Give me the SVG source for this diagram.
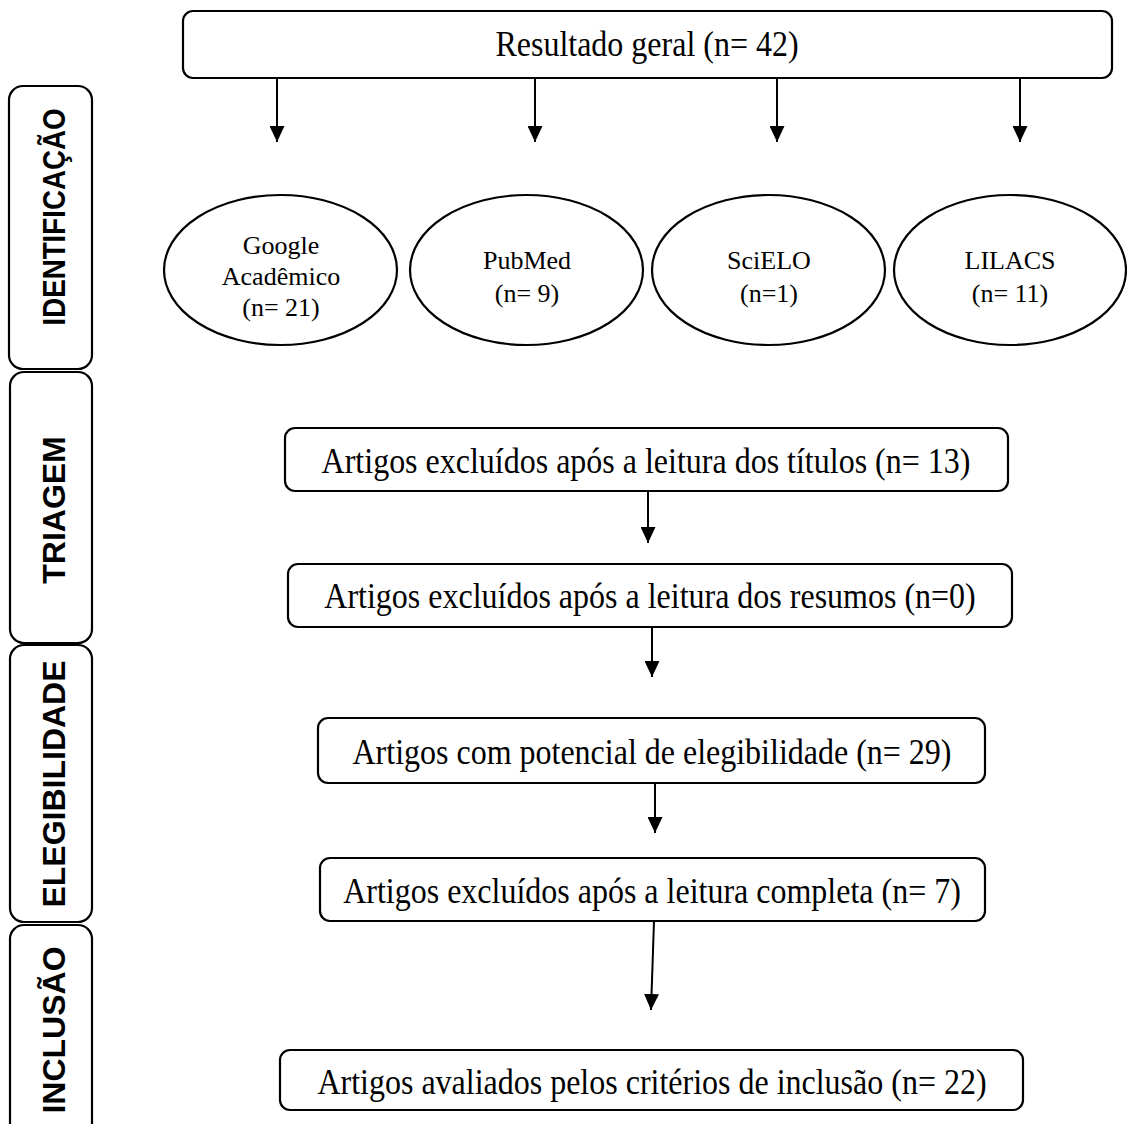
<svg xmlns="http://www.w3.org/2000/svg" width="1127" height="1124" viewBox="0 0 1127 1124">
<defs>
<style>
.box{fill:#fff;stroke:#000;stroke-width:2.2}
.t{font-family:"Liberation Serif","Times New Roman",serif;font-size:32px;fill:#000;text-anchor:middle}
.e{font-family:"Liberation Serif","Times New Roman",serif;font-size:26px;fill:#000;text-anchor:middle}
.side{font-family:"Liberation Sans",Arial,sans-serif;font-size:32px;font-weight:bold;fill:#000;text-anchor:middle}
.c{stroke:#000;stroke-width:2;fill:none;marker-end:url(#ah)}
</style>
<marker id="ah" viewBox="0 0 16 15" refX="16" refY="7.5" markerWidth="16" markerHeight="15" markerUnits="userSpaceOnUse" orient="auto">
<path d="M0,0 L16,7.5 L0,15 Z" fill="#000"/>
</marker>
</defs>
<rect width="1127" height="1124" fill="#fff"/>

<g id="phase-identificacao">
<rect class="box" x="9" y="86" width="83" height="283" rx="14"/>
<text class="side" transform="translate(65,217) rotate(-90)" textLength="217" lengthAdjust="spacingAndGlyphs">IDENTIFICAÇÃO</text>
</g>
<g id="phase-triagem">
<rect class="box" x="10" y="372" width="82" height="271" rx="14"/>
<text class="side" transform="translate(65,510) rotate(-90)">TRIAGEM</text>
</g>
<g id="phase-elegibilidade">
<rect class="box" x="10" y="645" width="82" height="277" rx="14"/>
<text class="side" transform="translate(65,784) rotate(-90)">ELEGIBILIDADE</text>
</g>
<g id="phase-inclusao">
<rect class="box" x="10" y="925" width="82" height="230" rx="14"/>
<text class="side" transform="translate(65,1030) rotate(-90)">INCLUSÃO</text>
</g>

<g id="resultado">
<rect class="box" x="183" y="11" width="929" height="67" rx="10"/>
<text class="t" transform="translate(647,56) scale(1,1.1)">Resultado geral (n= 42)</text>
</g>

<g id="google">
<ellipse class="box" cx="280.5" cy="270" rx="116.5" ry="75"/>
<text class="e" x="281" y="254">Google</text>
<text class="e" x="281" y="285">Acadêmico</text>
<text class="e" x="281" y="316">(n= 21)</text>
</g>
<g id="pubmed">
<ellipse class="box" cx="526.5" cy="270" rx="116.5" ry="75"/>
<text class="e" x="527" y="269">PubMed</text>
<text class="e" x="527" y="302">(n= 9)</text>
</g>
<g id="scielo">
<ellipse class="box" cx="768.5" cy="270" rx="116.5" ry="75"/>
<text class="e" x="769" y="269">SciELO</text>
<text class="e" x="769" y="302">(n=1)</text>
</g>
<g id="lilacs">
<ellipse class="box" cx="1010" cy="270" rx="116" ry="75"/>
<text class="e" x="1010" y="269">LILACS</text>
<text class="e" x="1010" y="302">(n= 11)</text>
</g>

<g id="titulos">
<rect class="box" x="285" y="428" width="723" height="63" rx="10"/>
<text class="t" transform="translate(646,473) scale(1,1.15)">Artigos excluídos após a leitura dos títulos (n= 13)</text>
</g>
<g id="resumos">
<rect class="box" x="288" y="564" width="724" height="63" rx="10"/>
<text class="t" transform="translate(650,608) scale(1,1.15)">Artigos excluídos após a leitura dos resumos (n=0)</text>
</g>
<g id="potencial">
<rect class="box" x="318" y="718" width="667" height="65" rx="10"/>
<text class="t" transform="translate(652,764) scale(1,1.15)">Artigos com potencial de elegibilidade (n= 29)</text>
</g>
<g id="completa">
<rect class="box" x="320" y="858" width="665" height="63" rx="10"/>
<text class="t" transform="translate(652,903) scale(1,1.15)">Artigos excluídos após a leitura completa (n= 7)</text>
</g>
<g id="inclusao">
<rect class="box" x="280" y="1050" width="743" height="60" rx="10"/>
<text class="t" transform="translate(652,1094) scale(1,1.15)">Artigos avaliados pelos critérios de inclusão (n= 22)</text>
</g>

<g id="connectors">
<line class="c" x1="277" y1="78" x2="277" y2="142"/>
<line class="c" x1="535" y1="78" x2="535" y2="142"/>
<line class="c" x1="777" y1="78" x2="777" y2="142"/>
<line class="c" x1="1020" y1="78" x2="1020" y2="142"/>
<line class="c" x1="648" y1="491" x2="648" y2="543"/>
<line class="c" x1="652" y1="627" x2="652" y2="677"/>
<line class="c" x1="655" y1="783" x2="655" y2="833"/>
<line class="c" x1="654" y1="921" x2="651" y2="1010"/>
</g>
</svg>
